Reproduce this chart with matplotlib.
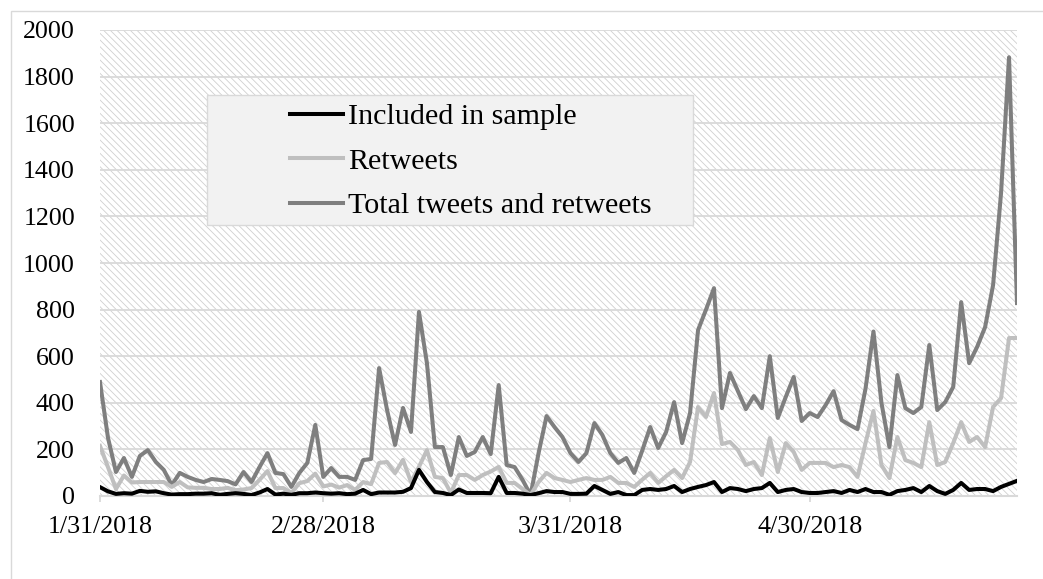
import matplotlib
matplotlib.use('Agg')
import matplotlib.pyplot as plt
from matplotlib.patches import Rectangle
import pandas as pd

# Daily counts, 1/31/2018 - 5/26/2018
start_date = '2018-01-31'

total_tweets = [489, 250, 103, 163, 82, 172, 197, 146, 112, 47,
                99, 82, 69, 60, 73, 69, 64, 50, 103, 60,
                124, 184, 99, 94, 39, 99, 142, 305, 82, 120,
                82, 82, 69, 154, 159, 549, 369, 219, 378, 275,
                790, 570, 210, 210, 90, 253, 172, 189, 253, 180,
                476, 133, 124, 69, 4, 184, 343, 296, 253, 184,
                146, 184, 313, 262, 184, 142, 163, 99, 195, 296,
                206, 275, 403, 227, 356, 712, 800, 892, 377, 528,
                450, 373, 429, 377, 600, 335, 425, 511, 322, 356,
                339, 390, 450, 326, 305, 287, 460, 706, 400, 210,
                519, 377, 356, 382, 648, 369, 403, 468, 832, 570,
                640, 725, 905, 1300, 1883, 828]

retweets = [215, 124, 30, 88, 58, 60, 60, 60, 60, 39,
            60, 37, 35, 35, 30, 30, 35, 25, 28, 34,
            69, 107, 34, 34, 13, 55, 64, 96, 41, 49,
            36, 47, 26, 60, 51, 142, 146, 98, 155, 60,
            125, 197, 82, 77, 13, 90, 90, 69, 90, 105,
            125, 56, 56, 30, 4, 60, 99, 77, 69, 60,
            69, 77, 69, 69, 82, 56, 56, 39, 70, 99,
            56, 85, 112, 77, 146, 382, 339, 442, 223, 232,
            197, 133, 146, 90, 249, 103, 227, 189, 112, 142,
            142, 142, 124, 133, 124, 82, 227, 365, 133, 77,
            253, 154, 142, 124, 317, 133, 146, 227, 317, 232,
            253, 210, 382, 420, 678, 678]

included = [38, 20, 9, 12, 10, 22, 18, 20, 12, 6,
            8, 8, 10, 10, 12, 5, 9, 12, 9, 4,
            15, 30, 6, 10, 5, 12, 12, 15, 12, 10,
            12, 8, 10, 26, 8, 15, 15, 15, 18, 34,
            112, 60, 17, 13, 4, 28, 13, 13, 13, 12,
            82, 13, 13, 10, 4, 12, 21, 17, 17, 9,
            9, 10, 43, 26, 9, 17, 4, 4, 26, 30,
            26, 30, 43, 17, 30, 39, 47, 60, 17, 34,
            30, 21, 30, 34, 56, 17, 26, 30, 17, 13,
            13, 17, 21, 13, 26, 17, 30, 17, 17, 5,
            21, 26, 34, 17, 43, 21, 9, 26, 56, 26,
            30, 30, 21, 39, 52, 65]

series_names = ['Included in sample', 'Retweets', 'Total tweets and retweets']
tick_dates = ['2018-01-31', '2018-02-28', '2018-03-31', '2018-04-30']
tick_labels = ['1/31/2018', '2/28/2018', '3/31/2018', '4/30/2018']

dates = pd.date_range(start_date, periods=len(total_tweets), freq='D')

plt.rcParams['font.family'] = ['Liberation Serif', 'DejaVu Serif']
plt.rcParams['hatch.linewidth'] = 0.6
FS = 18.7
LEG_FS = 21.6
GRID = '#d9d9d9'

fig = plt.figure(figsize=(10.43, 5.79), dpi=100)
ax = fig.add_axes([100 / 1043, 1 - 496 / 579, 917 / 1043, 466 / 579])

# hatched plot area
ax.patch.set_facecolor('white')
ax.patch.set_hatch('\\\\\\\\\\')
ax.patch.set_edgecolor('#cfcfcf')
ax.patch.set_linewidth(0)

ax.plot(dates, total_tweets, color='#7f7f7f', lw=2.9, solid_joinstyle='round', zorder=3)
ax.plot(dates, retweets, color='#bfbfbf', lw=2.9, solid_joinstyle='round', zorder=4)
ax.plot(dates, included, color='black', lw=2.9, solid_joinstyle='round', zorder=5)

ax.set_xlim(dates[0], dates[-1])
ax.set_ylim(0, 2000)
ax.set_yticks(range(0, 2001, 200))
ax.yaxis.grid(True, color=GRID, lw=1.3)
ax.set_axisbelow(True)

ax.set_xticks(pd.to_datetime(tick_dates))
ax.set_xticklabels(tick_labels)
ax.tick_params(axis='x', direction='out', length=4, width=1.3, color=GRID,
               labelsize=FS, pad=10.5)
ax.tick_params(axis='y', length=0, labelsize=FS, pad=18)

for side in ['top', 'right', 'left']:
    ax.spines[side].set_visible(False)
ax.spines['bottom'].set_color(GRID)
ax.spines['bottom'].set_linewidth(1.5)
ax.spines['bottom'].set_zorder(2)

# legend box
ax.add_patch(Rectangle((207 / 1043, 1 - 225 / 579), 486 / 1043, 130 / 579,
                       transform=fig.transFigure, facecolor='#f2f2f2',
                       edgecolor=GRID, lw=1, zorder=6, clip_on=False))
handles = ax.get_lines()[::-1]
leg = ax.legend(handles, series_names, loc='upper left',
                bbox_to_anchor=(290 / 1043, 1 - 103 / 579),
                bbox_transform=fig.transFigure, frameon=False, fontsize=LEG_FS,
                handlelength=1.77, handletextpad=0.17, labelspacing=0.59,
                borderpad=0, borderaxespad=0)
leg.set_zorder(7)

# outer chart border
fig.patches.append(Rectangle((11 / 1043, -0.1), 1.2, 1.1 - 11 / 579,
                             transform=fig.transFigure, fill=False,
                             edgecolor=GRID, lw=1))

fig.savefig('out.png', dpi=100)
